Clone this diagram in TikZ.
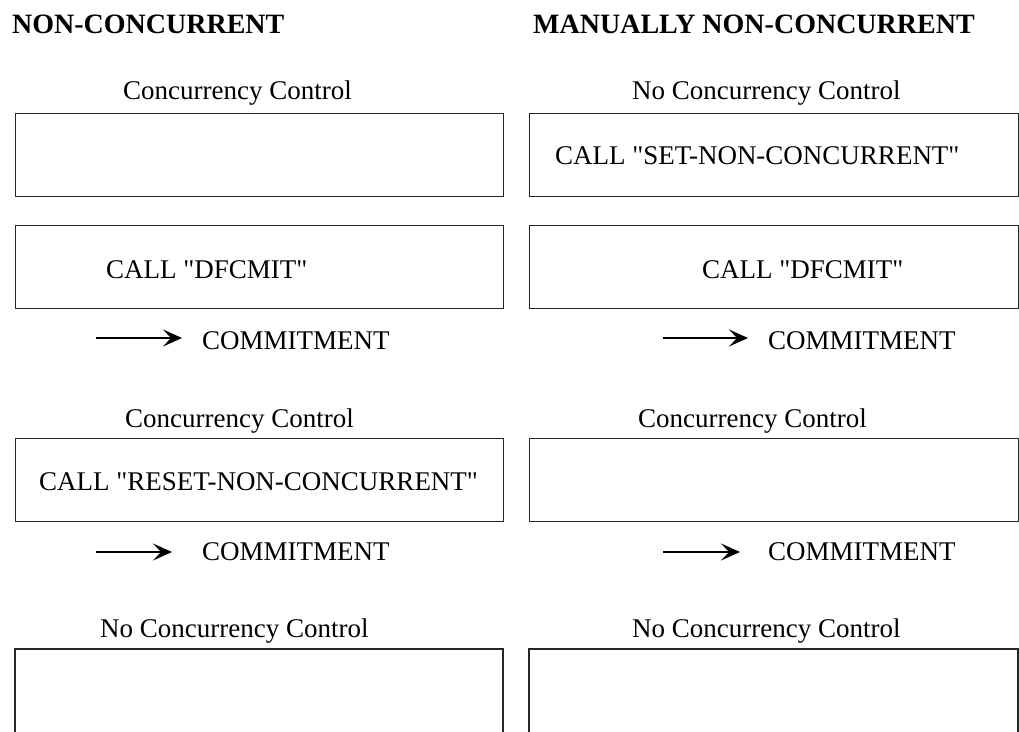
\documentclass[tikz,border=0pt]{standalone}
\usepackage{fontspec}
\setmainfont{Liberation Serif}
\usetikzlibrary{arrows.meta}
% straight double quote, set as a glyph so that no quote mapping turns it curly
\newcommand\dq{\XeTeXglyph\numexpr\XeTeXcharglyph"22\relax}
\begin{document}
\begin{tikzpicture}[x=1pt,y=-1pt,
  frame/.style={draw=black!85, line width=1.2pt},
  panel/.style={frame, minimum width=488pt, minimum height=83pt, anchor=north west, inner sep=0pt},
  rpanel/.style={panel, minimum width=489pt},
  txt/.style={anchor=base west, inner sep=0pt, font=\fontsize{27}{32}\selectfont},
  heading/.style={anchor=base west, inner sep=0pt, font=\fontsize{28}{33}\selectfont\bfseries},
  arr/.style={line width=1.1pt, -{Stealth[length=19pt,width=17pt,inset=8pt]}}]
\useasboundingbox (0,0) rectangle (1019,731);
\clip (0,0) rectangle (1019,731);

% column headings
\node[heading] (hL) at (12,33) {NON-CONCURRENT};
\node[heading] (hR) at (533,33) {MANUALLY NON-CONCURRENT};

% first row
\node[txt] (cL1) at (123,99) {Concurrency Control};
\node[txt] (cR1) at (632,99) {No Concurrency Control};
\node[panel]  (bL1) at (15,113) {};
\node[rpanel] (bR1) at (529,113) {};
\node[txt] (sR1) at (555,164) {CALL \dq SET-NON-CONCURRENT\dq};

% second row
\node[panel]  (bL2) at (15,225) {};
\node[rpanel] (bR2) at (529,225) {};
\node[txt] (sL2) at (106,278) {CALL \dq DFCMIT\dq};
\node[txt] (sR2) at (702,278) {CALL \dq DFCMIT\dq};
\coordinate (aL2s) at (96,338);  \coordinate (aL2e) at (182,338);
\coordinate (aR2s) at (663,338); \coordinate (aR2e) at (748,338);
\draw[arr] (aL2s) -- (aL2e);
\draw[arr] (aR2s) -- (aR2e);
\node[txt] (mL2) at (202,349) {COMMITMENT};
\node[txt] (mR2) at (768,349) {COMMITMENT};

% third row
\node[txt] (cL3) at (125,427) {Concurrency Control};
\node[txt] (cR3) at (638,427) {Concurrency Control};
\node[panel]  (bL3) at (15,438) {};
\node[rpanel] (bR3) at (529,438) {};
\node[txt] (sL3) at (39,490) {CALL \dq RESET-NON-CONCURRENT\dq};
\coordinate (aL3s) at (96,552);  \coordinate (aL3e) at (172,552);
\coordinate (aR3s) at (663,552); \coordinate (aR3e) at (740,552);
\draw[arr] (aL3s) -- (aL3e);
\draw[arr] (aR3s) -- (aR3e);
\node[txt] (mL3) at (202,560) {COMMITMENT};
\node[txt] (mR3) at (768,560) {COMMITMENT};

% fourth row, boxes continue below the page edge
\node[txt] (cL4) at (100,637) {No Concurrency Control};
\node[txt] (cR4) at (632,637) {No Concurrency Control};
\draw[frame] (15,745) -- (15,649) -- (503,649) -- (503,745);
\draw[frame] (529,745) -- (529,649) -- (1018,649) -- (1018,745);
\end{tikzpicture}
\end{document}
